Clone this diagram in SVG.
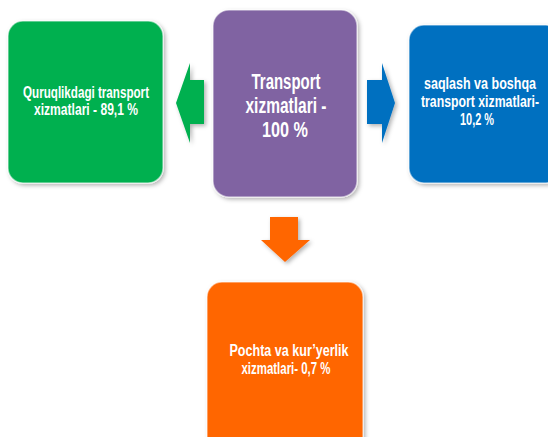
<svg xmlns="http://www.w3.org/2000/svg" width="548" height="437" viewBox="0 0 548 437">
<defs>
<filter id="sh" x="-10%" y="-10%" width="130%" height="130%">
<feDropShadow dx="2" dy="2" stdDeviation="2" flood-color="#000" flood-opacity="0.3"/>
</filter>
<style>
.box{stroke:#ffffff;stroke-opacity:0.5;stroke-width:1.5;filter:url(#sh)}
.arr{filter:url(#sh)}
text{font-family:"Liberation Sans",Arial,sans-serif;font-weight:bold;fill:#ffffff;text-anchor:middle}
.s{font-size:16px}
.t{font-size:12px}
.b{font-size:22px}
</style>
</defs>
<rect width="548" height="437" fill="#ffffff"/>
<g id="connectors">
<polygon class="arr" points="204,80 190,80 190,63 176,103 190,143 190,124 204,124" fill="#00B050"/>
<polygon class="arr" points="367,80 382,80 382,63 395,103 382,143 382,124 367,124" fill="#0070C0"/>
<polygon class="arr" points="270,217 298,217 298,240 310,240 285,262 261,240 270,240" fill="#FF6600"/>
</g>
<g id="node-green">
<rect class="box" x="8" y="21" width="155" height="162" rx="15" fill="#00B050"/>
<text class="s" x="86" y="98" textLength="126" lengthAdjust="spacingAndGlyphs">Quruqlikdagi transport</text>
<text class="s" x="86" y="115" textLength="104" lengthAdjust="spacingAndGlyphs">xizmatlari - 89,1 %</text>
</g>
<g id="node-purple">
<rect class="box" x="213" y="10" width="144" height="187" rx="16" fill="#8064A2"/>
<text class="b" x="286" y="89" textLength="69" lengthAdjust="spacingAndGlyphs">Transport</text>
<text class="b" x="286" y="113" textLength="81" lengthAdjust="spacingAndGlyphs">xizmatlari -</text>
<text class="b" x="285" y="137" textLength="46" lengthAdjust="spacingAndGlyphs">100 %</text>
</g>
<g id="node-blue">
<rect class="box" x="409" y="25" width="152" height="158" rx="15" fill="#0070C0"/>
<text class="t" transform="translate(480,89) scale(1,1.333)" x="0" y="0" textLength="112" lengthAdjust="spacingAndGlyphs">saqlash va boshqa</text>
<text class="t" transform="translate(480,107) scale(1,1.333)" x="0" y="0" textLength="118" lengthAdjust="spacingAndGlyphs">transport xizmatlari-</text>
<text class="s" x="477" y="125" textLength="34" lengthAdjust="spacingAndGlyphs">10,2 %</text>
</g>
<g id="node-orange">
<rect class="box" x="207" y="282" width="156" height="170" rx="15" fill="#FF6600"/>
<text class="s" x="289" y="356" textLength="119" lengthAdjust="spacingAndGlyphs">Pochta va kur’yerlik</text>
<text class="s" x="286" y="374" textLength="89" lengthAdjust="spacingAndGlyphs">xizmatlari- 0,7 %</text>
</g>
</svg>
